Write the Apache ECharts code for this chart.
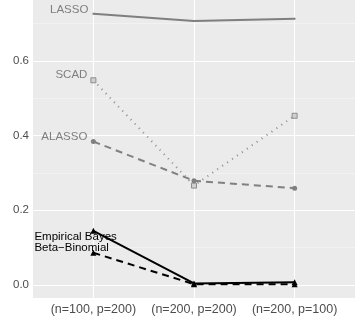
<!DOCTYPE html>
<html lang="en">
<head>
<meta charset="UTF-8">
<title>FDR by setting</title>
<script src="https://cdn.jsdelivr.net/npm/echarts@6.0.0/dist/echarts.min.js"></script>
<style>
  html, body { margin: 0; padding: 0; background: #fff; }
  #chart { width: 356px; height: 326px; }
</style>
</head>
<body>
<div id="chart"></div>
<script>
// settings on the x axis
const settings = ['(n=100, p=200)', '(n=200, p=200)', '(n=200, p=100)'];

// FDR values
const lasso = [0.726, 0.707, 0.713];
const scad = [0.548, 0.266, 0.453];
const alasso = [0.384, 0.279, 0.259];
const empBayes = [0.145, 0.004, 0.007];
const betaBinom = [0.086, 0.002, 0.002];

const yTicks = [0, 0.2, 0.4, 0.6];
const yMinor = [0.1, 0.3, 0.5, 0.7];

const font = 'Liberation Sans, Arial, sans-serif';

function pts(vals) {
  return vals.map((v, i) => [i, v]);
}

// method name put next to the first point
function firstLabel(text, color, align, offset) {
  return {
    show: true,
    position: 'inside',
    align: align,
    verticalAlign: 'middle',
    offset: offset,
    color: color,
    fontSize: 11.5,
    fontFamily: font,
    formatter: p => (p.dataIndex === 0 ? text : '')
  };
}

const gridLines = [];
yTicks.forEach(v => gridLines.push({ yAxis: v, lineStyle: { color: '#fff', width: 1.1, type: 'solid' } }));
yMinor.forEach(v => gridLines.push({ yAxis: v, lineStyle: { color: '#f7f7f7', width: 0.6, type: 'solid' } }));
settings.forEach((s, i) => gridLines.push({ xAxis: i, lineStyle: { color: '#fff', width: 1.1, type: 'solid' } }));

const chart = echarts.init(document.getElementById('chart'));
chart.setOption({
  animation: false,
  grid: {
    left: 33, right: 1, top: 0, bottom: 28,
    outerBoundsMode: 'none', containLabel: false,
    show: true, backgroundColor: '#EBEBEB', borderWidth: 0
  },
  xAxis: {
    type: 'value',
    min: -0.6, max: 2.6,
    splitLine: { show: false },
    axisLine: { show: false },
    axisTick: { show: true, customValues: [0, 1, 2], length: 3, lineStyle: { color: '#333' } },
    axisLabel: {
      customValues: [0, 1, 2],
      formatter: v => settings[Math.round(v)],
      color: '#4D4D4D', fontSize: 12.5, fontFamily: font, margin: 5
    }
  },
  yAxis: {
    type: 'value',
    min: -0.035, max: 0.763,
    name: 'FDR',
    nameLocation: 'middle',
    nameRotate: 90,
    nameGap: 33,
    nameTextStyle: { color: '#000', fontSize: 13, fontFamily: font },
    splitLine: { show: false },
    axisLine: { show: false },
    axisTick: { show: true, customValues: yTicks, length: 3, lineStyle: { color: '#333' } },
    axisLabel: {
      customValues: yTicks,
      formatter: v => v.toFixed(1),
      color: '#4D4D4D', fontSize: 11.5, fontFamily: font, margin: 4
    }
  },
  series: [
    {
      name: 'grid', type: 'line', data: [], silent: true, z: 1,
      markLine: { silent: true, symbol: 'none', label: { show: false }, data: gridLines, animation: false, z: 1 }
    },
    {
      name: 'LASSO', type: 'line', data: pts(lasso), z: 3,
      lineStyle: { color: '#7F7F7F', width: 2 },
      symbol: 'circle', symbolSize: 2,
      itemStyle: { color: '#7F7F7F' },
      label: firstLabel('LASSO', '#7F7F7F', 'right', [-5, -4])
    },
    {
      name: 'SCAD', type: 'line', data: pts(scad), z: 3,
      lineStyle: { color: '#8C8C8C', width: 2, type: [1, 5] },
      symbol: 'rect', symbolSize: 5,
      itemStyle: { color: '#D0D0D0', borderColor: '#8C8C8C', borderWidth: 1 },
      label: firstLabel('SCAD', '#7F7F7F', 'right', [-6, -5])
    },
    {
      name: 'ALASSO', type: 'line', data: pts(alasso), z: 3,
      lineStyle: { color: '#808080', width: 2, type: [7, 5] },
      symbol: 'circle', symbolSize: 5,
      itemStyle: { color: '#808080' },
      label: firstLabel('ALASSO', '#7F7F7F', 'right', [-6, -5])
    },
    {
      name: 'Empirical Bayes', type: 'line', data: pts(empBayes), z: 3,
      lineStyle: { color: '#000', width: 2 },
      symbol: 'triangle', symbolSize: 6,
      itemStyle: { color: '#000' },
      label: firstLabel('Empirical Bayes', '#000', 'left', [-59, 6])
    },
    {
      name: 'Beta-Binomial', type: 'line', data: pts(betaBinom), z: 3,
      lineStyle: { color: '#000', width: 2, type: [7, 5] },
      symbol: 'triangle', symbolSize: 6,
      itemStyle: { color: '#000' },
      label: firstLabel('Beta\u2212Binomial', '#000', 'left', [-59, -5])
    }
  ]
});
</script>
</body>
</html>
